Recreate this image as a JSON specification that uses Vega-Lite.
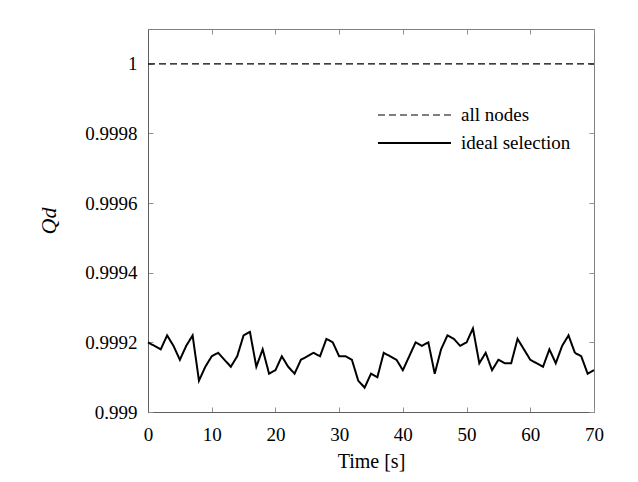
{
  "$schema": "https://vega.github.io/schema/vega-lite/v6.json",
  "autosize": {"type": "none"},
  "padding": {"left": 148, "top": 29, "right": 44, "bottom": 70},
  "width": 446,
  "height": 383,
  "background": "white",
  "config": {
    "view": {"stroke": "#808080", "strokeWidth": 1},
    "font": "Liberation Serif",
    "axis": {
      "grid": false,
      "labelFont": "Liberation Serif",
      "titleFont": "Liberation Serif",
      "labelFontSize": 19,
      "titleFontSize": 20,
      "labelColor": "black",
      "titleColor": "black",
      "titleFontWeight": "normal",
      "domainColor": "#606060",
      "tickColor": "#909090",
      "tickSize": -5,
      "labelFlush": false
    },
    "legend": {"labelFont": "Liberation Serif", "labelFontSize": 19, "labelColor": "black"}
  },
  "data": {
    "values": [
      {"t": 0, "q": 0.99920, "s": "ideal selection"},
      {"t": 1, "q": 0.99919, "s": "ideal selection"},
      {"t": 2, "q": 0.99918, "s": "ideal selection"},
      {"t": 3, "q": 0.99922, "s": "ideal selection"},
      {"t": 4, "q": 0.99919, "s": "ideal selection"},
      {"t": 5, "q": 0.99915, "s": "ideal selection"},
      {"t": 6, "q": 0.99919, "s": "ideal selection"},
      {"t": 7, "q": 0.99922, "s": "ideal selection"},
      {"t": 8, "q": 0.99909, "s": "ideal selection"},
      {"t": 9, "q": 0.99913, "s": "ideal selection"},
      {"t": 10, "q": 0.99916, "s": "ideal selection"},
      {"t": 11, "q": 0.99917, "s": "ideal selection"},
      {"t": 12, "q": 0.99915, "s": "ideal selection"},
      {"t": 13, "q": 0.99913, "s": "ideal selection"},
      {"t": 14, "q": 0.99916, "s": "ideal selection"},
      {"t": 15, "q": 0.99922, "s": "ideal selection"},
      {"t": 16, "q": 0.99923, "s": "ideal selection"},
      {"t": 17, "q": 0.99913, "s": "ideal selection"},
      {"t": 18, "q": 0.99918, "s": "ideal selection"},
      {"t": 19, "q": 0.99911, "s": "ideal selection"},
      {"t": 20, "q": 0.99912, "s": "ideal selection"},
      {"t": 21, "q": 0.99916, "s": "ideal selection"},
      {"t": 22, "q": 0.99913, "s": "ideal selection"},
      {"t": 23, "q": 0.99911, "s": "ideal selection"},
      {"t": 24, "q": 0.99915, "s": "ideal selection"},
      {"t": 25, "q": 0.99916, "s": "ideal selection"},
      {"t": 26, "q": 0.99917, "s": "ideal selection"},
      {"t": 27, "q": 0.99916, "s": "ideal selection"},
      {"t": 28, "q": 0.99921, "s": "ideal selection"},
      {"t": 29, "q": 0.99920, "s": "ideal selection"},
      {"t": 30, "q": 0.99916, "s": "ideal selection"},
      {"t": 31, "q": 0.99916, "s": "ideal selection"},
      {"t": 32, "q": 0.99915, "s": "ideal selection"},
      {"t": 33, "q": 0.99909, "s": "ideal selection"},
      {"t": 34, "q": 0.99907, "s": "ideal selection"},
      {"t": 35, "q": 0.99911, "s": "ideal selection"},
      {"t": 36, "q": 0.99910, "s": "ideal selection"},
      {"t": 37, "q": 0.99917, "s": "ideal selection"},
      {"t": 38, "q": 0.99916, "s": "ideal selection"},
      {"t": 39, "q": 0.99915, "s": "ideal selection"},
      {"t": 40, "q": 0.99912, "s": "ideal selection"},
      {"t": 41, "q": 0.99916, "s": "ideal selection"},
      {"t": 42, "q": 0.99920, "s": "ideal selection"},
      {"t": 43, "q": 0.99919, "s": "ideal selection"},
      {"t": 44, "q": 0.99920, "s": "ideal selection"},
      {"t": 45, "q": 0.99911, "s": "ideal selection"},
      {"t": 46, "q": 0.99918, "s": "ideal selection"},
      {"t": 47, "q": 0.99922, "s": "ideal selection"},
      {"t": 48, "q": 0.99921, "s": "ideal selection"},
      {"t": 49, "q": 0.99919, "s": "ideal selection"},
      {"t": 50, "q": 0.99920, "s": "ideal selection"},
      {"t": 51, "q": 0.99924, "s": "ideal selection"},
      {"t": 52, "q": 0.99914, "s": "ideal selection"},
      {"t": 53, "q": 0.99917, "s": "ideal selection"},
      {"t": 54, "q": 0.99912, "s": "ideal selection"},
      {"t": 55, "q": 0.99915, "s": "ideal selection"},
      {"t": 56, "q": 0.99914, "s": "ideal selection"},
      {"t": 57, "q": 0.99914, "s": "ideal selection"},
      {"t": 58, "q": 0.99921, "s": "ideal selection"},
      {"t": 59, "q": 0.99918, "s": "ideal selection"},
      {"t": 60, "q": 0.99915, "s": "ideal selection"},
      {"t": 61, "q": 0.99914, "s": "ideal selection"},
      {"t": 62, "q": 0.99913, "s": "ideal selection"},
      {"t": 63, "q": 0.99918, "s": "ideal selection"},
      {"t": 64, "q": 0.99914, "s": "ideal selection"},
      {"t": 65, "q": 0.99919, "s": "ideal selection"},
      {"t": 66, "q": 0.99922, "s": "ideal selection"},
      {"t": 67, "q": 0.99917, "s": "ideal selection"},
      {"t": 68, "q": 0.99916, "s": "ideal selection"},
      {"t": 69, "q": 0.99911, "s": "ideal selection"},
      {"t": 70, "q": 0.99912, "s": "ideal selection"},
      {"t": 0, "q": 1.0, "s": "all nodes"},
      {"t": 70, "q": 1.0, "s": "all nodes"}
    ]
  },
  "layer": [
    {
      "mark": {"type": "line", "color": "black"},
      "encoding": {
        "x": {
          "field": "t", "type": "quantitative",
          "scale": {"domain": [0, 70], "nice": false, "zero": false},
          "axis": {"title": "Time [s]", "values": [0, 10, 20, 30, 40, 50, 60, 70], "labelPadding": 18, "titlePadding": 7}
        },
        "y": {
          "field": "q", "type": "quantitative",
          "scale": {"domain": [0.999, 1.0001], "nice": false, "zero": false},
          "axis": {"title": "Qd", "titleFontStyle": "italic", "titleFontSize": 22, "values": [0.999, 0.9992, 0.9994, 0.9996, 0.9998, 1], "format": ".4~f", "labelPadding": 16, "titlePadding": 24}
        },
        "detail": {"field": "s"},
        "strokeDash": {
          "field": "s", "type": "nominal",
          "scale": {"domain": ["all nodes", "ideal selection"], "range": [[7, 4], [1, 0]]},
          "legend": {
            "orient": "none", "legendX": 229, "legendY": 72, "title": null,
            "symbolType": "stroke", "symbolSize": 5329, "clipHeight": 28,
            "symbolStrokeColor": "black",
            "labelFont": "Liberation Serif", "labelFontSize": 19, "labelColor": "black",
            "labelOffset": 9, "padding": 0, "rowPadding": 0
          }
        },
        "strokeWidth": {
          "field": "s", "type": "nominal",
          "scale": {"domain": ["all nodes", "ideal selection"], "range": [1.2, 2]},
          "legend": {
            "orient": "none", "legendX": 229, "legendY": 72, "title": null,
            "symbolType": "stroke", "symbolSize": 5329, "clipHeight": 28,
            "symbolStrokeColor": "black",
            "labelFont": "Liberation Serif", "labelFontSize": 19, "labelColor": "black",
            "labelOffset": 9, "padding": 0, "rowPadding": 0
          }
        }
      }
    },
    {
      "mark": {"type": "line", "opacity": 0},
      "encoding": {
        "x": {"field": "t", "type": "quantitative", "axis": {"orient": "top", "labels": false, "title": null, "domain": false, "values": [0, 10, 20, 30, 40, 50, 60, 70]}},
        "y": {"field": "q", "type": "quantitative", "axis": {"orient": "right", "labels": false, "title": null, "domain": false, "values": [0.999, 0.9992, 0.9994, 0.9996, 0.9998, 1]}}
      }
    }
  ],
  "resolve": {"axis": {"x": "independent", "y": "independent"}}
}
